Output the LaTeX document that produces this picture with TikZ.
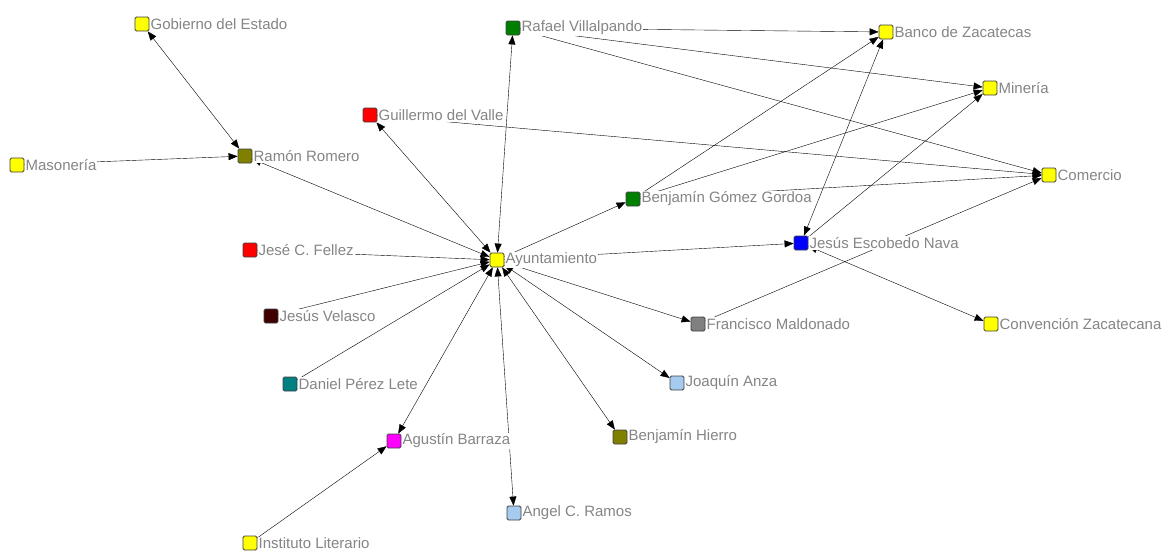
\documentclass[tikz,border=0pt]{standalone}
\usepackage{fontspec}
\setmainfont{Liberation Sans}
\usetikzlibrary{arrows.meta,backgrounds}
\definecolor{yel}{HTML}{FFFF00}
\definecolor{olv}{HTML}{808000}
\definecolor{grn}{HTML}{008000}
\definecolor{rd}{HTML}{FF0000}
\definecolor{blu}{HTML}{0000FF}
\definecolor{mag}{HTML}{FF00FF}
\definecolor{maroon}{HTML}{400000}
\definecolor{tealc}{HTML}{008080}
\definecolor{lblue}{HTML}{A6CAF0}
\definecolor{gry}{HTML}{808080}
\definecolor{txtgray}{HTML}{858585}
\begin{document}
\begin{tikzpicture}[x=1pt, y=-1pt, font=\fontsize{15}{18}\selectfont, line join=round, >={Triangle[length=9pt,width=7pt]},
  sq/.style={draw=black!75, rounded corners=1.5pt, inner sep=0pt, minimum size=14pt, line width=.8pt},
  lbl/.style={fill=white, text=txtgray, inner sep=1pt}]
\useasboundingbox (0,0) rectangle (1164,552);
% actores
\foreach \n/\x/\y/\c/\t in {ayto/497/260/yel/Ayuntamiento, gob/142/24/yel/Gobierno del Estado,
  mason/17/165/yel/Masonería, ramon/245/156/olv/Ramón Romero, guill/370/115/rd/Guillermo del Valle,
  rafael/513/28/grn/Rafael Villalpando, banco/886/32/yel/Banco de Zacatecas, mineria/990/88/yel/Minería,
  comercio/1049/175/yel/Comercio, bgg/633/199/grn/Benjamín Gómez Gordoa, jen/801/243/blu/Jesús Escobedo Nava,
  jese/250/250/rd/Jesé C. Fellez, velasco/271/316/maroon/Jesús Velasco, daniel/290/384/tealc/Daniel Pérez Lete,
  agustin/394/441/mag/Agustín Barraza, inst/250/543/yel/Instituto Literario, angel/514/513/lblue/Angel C. Ramos,
  hierro/620/437/olv/Benjamín Hierro, anza/677/383/lblue/Joaquín Anza, maldo/698/324/gry/Francisco Maldonado,
  conv/991/324/yel/Convención Zacatecana}
  \node[sq, fill=\c, label={[lbl]right:\t}] (\n) at (\x,\y) {};
% vinculos
\begin{scope}[on background layer, line width=.75pt, black]
\foreach \a/\b in {ayto/ramon, ayto/guill, ayto/rafael, ayto/agustin, ayto/angel, ayto/hierro, ayto/anza,
  ayto/maldo, gob/ramon, jen/banco, jen/conv}
  \draw[<->] (\a)--(\b);
\foreach \a/\b in {jese/ayto, velasco/ayto, daniel/ayto, ayto/bgg, ayto/jen, mason/ramon, inst/agustin,
  rafael/banco, rafael/mineria, rafael/comercio, guill/comercio, bgg/banco, bgg/mineria, bgg/comercio,
  jen/mineria, maldo/comercio}
  \draw[->] (\a)--(\b);
\end{scope}
\end{tikzpicture}
\end{document}
